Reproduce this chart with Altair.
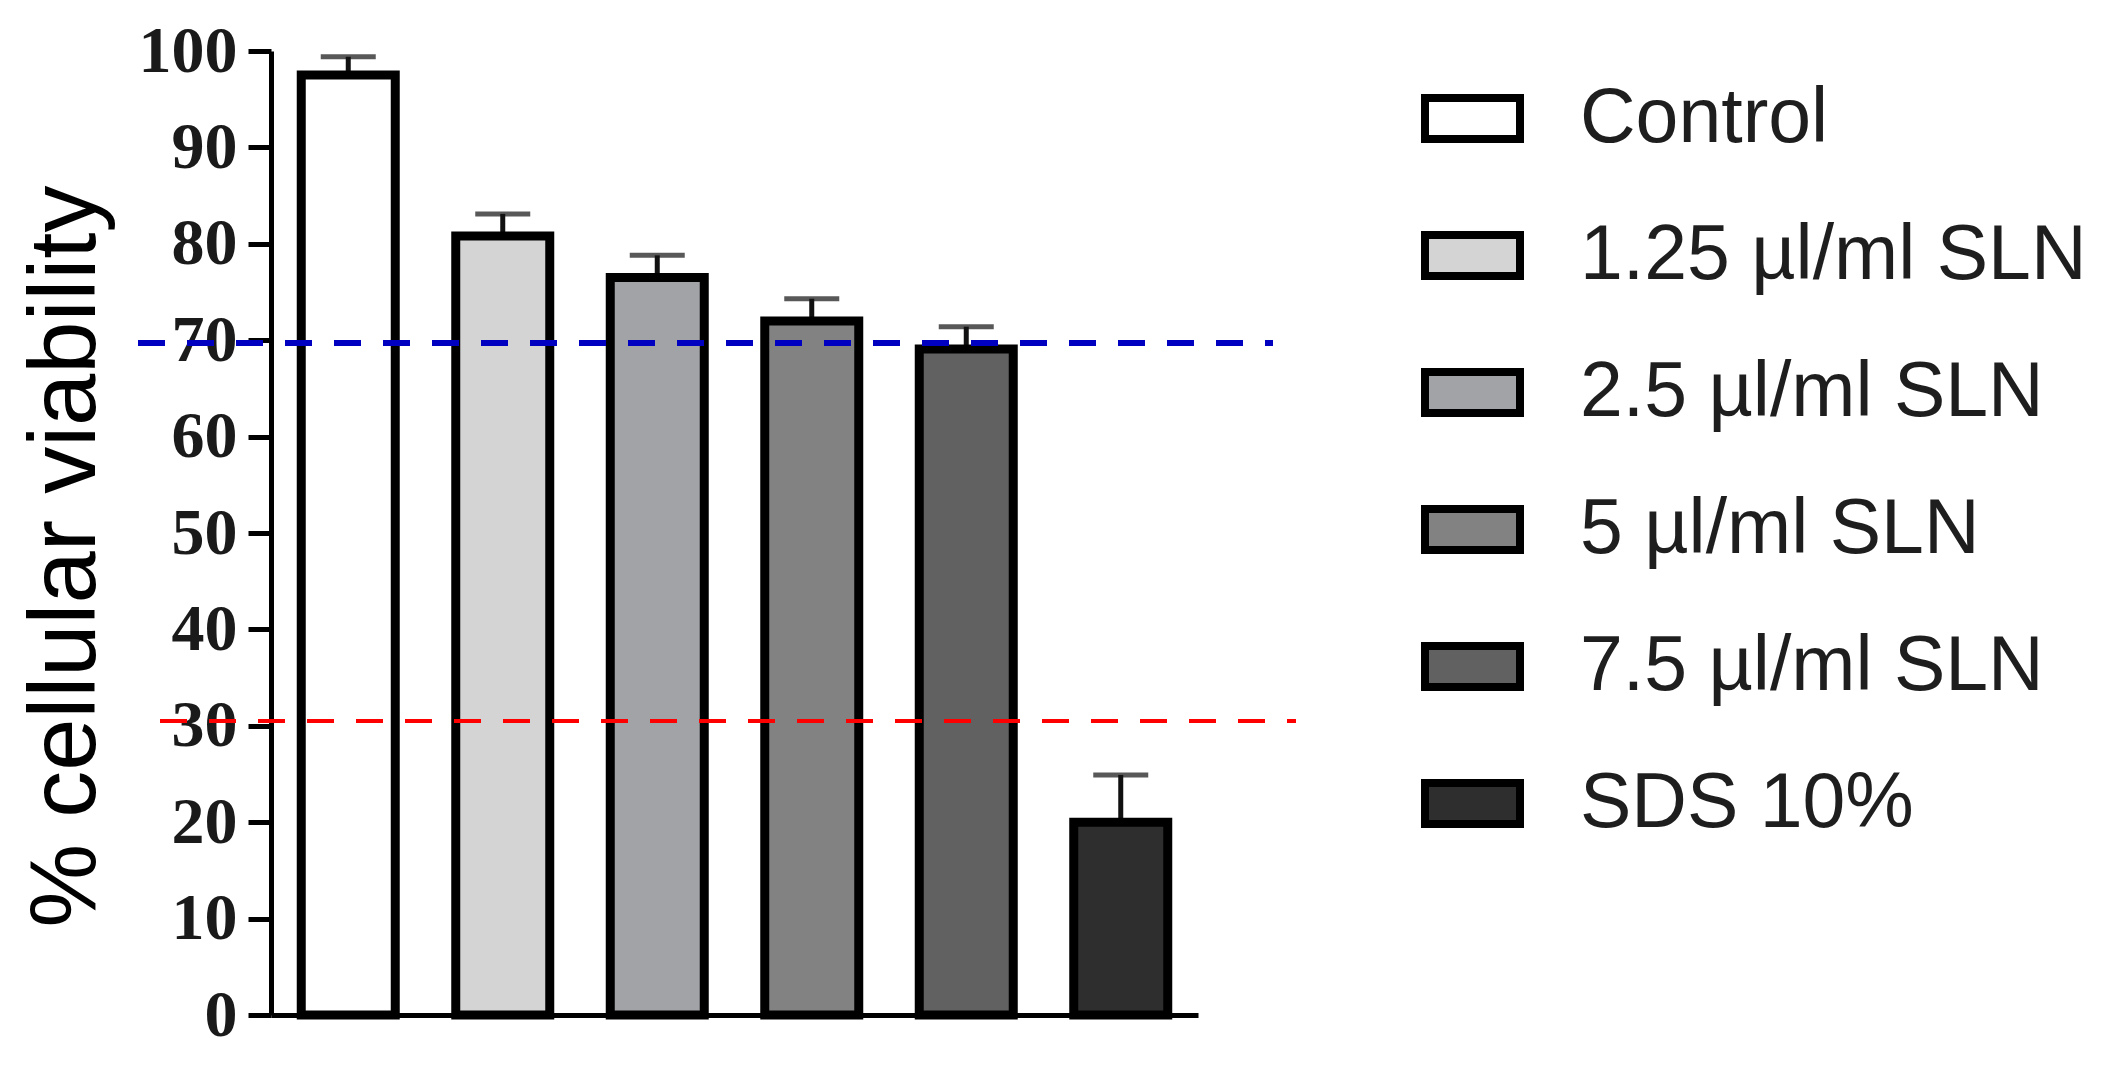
import altair as alt
import pandas as pd

categories = ["Control", "1.25 µl/ml SLN", "2.5 µl/ml SLN", "5 µl/ml SLN", "7.5 µl/ml SLN", "SDS 10%"]
means = [97.5, 80.8, 76.5, 72.0, 69.1, 20.0]
errors = [1.9, 2.3, 2.3, 2.3, 2.3, 4.9]
fills = ["#ffffff", "#d4d4d4", "#a2a3a7", "#828282", "#616161", "#2e2e2e"]
y_ticks = [0, 10, 20, 30, 40, 50, 60, 70, 80, 90, 100]
upper_limit = [69.7]   # blue dashed threshold
lower_limit = [30.5]   # red dashed threshold

df = pd.DataFrame({
    "cat": categories,
    "mean": means,
    "upper": [m + e for m, e in zip(means, errors)],
})
df_blue = pd.DataFrame({"v": upper_limit})
df_red = pd.DataFrame({"v": lower_limit})

y_axis = alt.Axis(
    values=y_ticks, grid=False,
    domainColor="black", domainWidth=5,
    tickColor="black", tickWidth=5, tickSize=23,
    labelFont="Liberation Serif", labelFontSize=66, labelFontWeight="bold",
    labelColor="#1a1a1a", labelPadding=11,
    title="% cellular viability", titleFont="Liberation Sans", titleFontSize=94,
    titleFontWeight="normal", titleColor="black",
    titleAngle=270, titleAlign="center", titleBaseline="alphabetic",
    titleX=-177, titleY=505,
)
y_scale = alt.Scale(domain=[0, 100], nice=False, zero=True)

x_enc = alt.X(
    "cat:N", sort=categories,
    scale=alt.Scale(paddingInner=0, paddingOuter=0),
    axis=alt.Axis(labels=False, ticks=False, title=None, domainColor="black", domainWidth=5),
)

base = alt.Chart(df)

stems = base.mark_rule(color="#111111", strokeWidth=5).encode(
    x=x_enc,
    y=alt.Y("mean:Q", scale=y_scale, axis=y_axis),
    y2="upper:Q",
)
caps = base.mark_tick(color="#111111", thickness=5, size=55).encode(
    x=x_enc,
    y=alt.Y("upper:Q", scale=y_scale, axis=y_axis),
)
bars = base.mark_bar(stroke="black", strokeWidth=9, size=94, opacity=1).encode(
    x=x_enc,
    y=alt.Y("mean:Q", scale=y_scale, axis=y_axis),
    fill=alt.Fill(
        "cat:N",
        sort=categories,
        scale=alt.Scale(domain=categories, range=fills),
        legend=alt.Legend(
            title=None, orient="none", legendX=1150, legendY=16, padding=0,
            symbolType="M-1,-0.432H1V0.432H-1Z", symbolSize=9025,
            symbolStrokeColor="black", symbolStrokeWidth=8, symbolOpacity=1,
            labelFont="Liberation Sans", labelFontSize=77, labelColor="#1e1e1e",
            labelOffset=56, rowPadding=47, labelLimit=800,
        ),
    ),
)
blue = alt.Chart(df_blue).mark_rule(color="#0000c0", strokeWidth=6, strokeDash=[27, 22]).encode(
    y=alt.Y("v:Q", scale=y_scale, axis=y_axis),
    x=alt.value(-133), x2=alt.value(1002),
)
red = alt.Chart(df_red).mark_rule(color="#ff0000", strokeWidth=4, strokeDash=[27, 22]).encode(
    y=alt.Y("v:Q", scale=y_scale, axis=y_axis),
    x=alt.value(-111), x2=alt.value(1025),
)

chart = alt.layer(stems, caps, bars, blue, red).properties(
    width=927, height=964,
    autosize=alt.AutoSizeParams(type="none"),
    padding={"left": 263, "top": 43, "right": 918, "bottom": 44},
    background="white",
).configure_view(stroke=None)

chart.save("out.html", embed_options={"renderer": "svg", "actions": False})
